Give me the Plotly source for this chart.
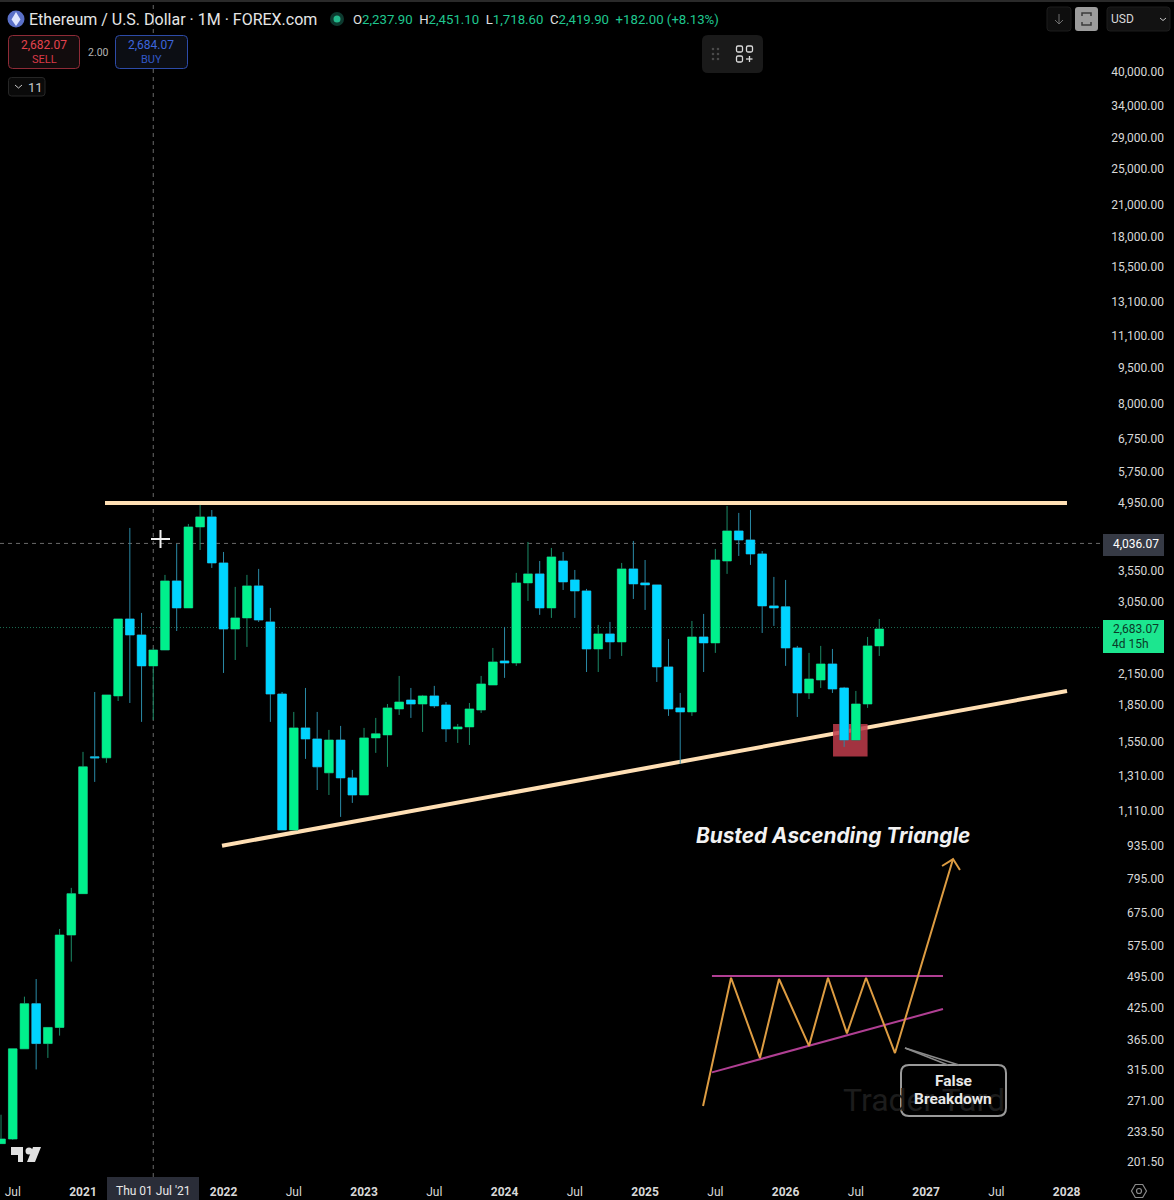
import plotly.graph_objects as go

# Month index: 0 = Jan 2021, one candle per month
months = list(range(-7, 69))
opens = [219, 224, 347, 432, 356, 385, 603,
         737, 1432, 1425, 1925, 2797, 2588, 2227, 2406, 3364, 2951, 4372, 4590,
         3671, 2664, 2811, 3284, 2757, 1943, 1004, 1648, 1562, 1325, 1554, 1293,
         1190, 1570, 1593, 1807, 1887, 1851, 1925, 1842, 1640, 1656, 1798, 2030,
         2281, 2259, 3332, 3481, 2951, 3706, 3380, 3205, 2418, 2601, 2502, 3566,
         3332, 3300, 2216, 1816, 1781, 2563, 2490, 3706, 4288, 4104, 3835, 2980,
         2966, 2430, 1953, 2080, 2248, 2001, 1554, 1851, 2454]
highs = [252, 347, 447, 487, 385, 621, 758,
         1467, 1962, 1934, 2797, 4351, 2880, 2430, 3464, 4026, 4436, 4865, 4747,
         3872, 3268, 3464, 3566, 2951, 1962, 1781, 2001, 1781, 1632, 1664, 1344,
         1648, 1730, 1851, 2121, 2001, 1934, 2021, 1869, 1680, 1860, 2121, 2430,
         2691, 3498, 4065, 3706, 3948, 3872, 3548, 3236, 2717, 2757, 3671, 4085,
         3724, 3300, 2538, 1953, 2770, 2866, 3929, 4841, 4680, 4747, 3890, 3430,
         3380, 2454, 2372, 2454, 2418, 2011, 1972, 2563, 2797]
lows = [219, 223, 347, 314, 332, 370, 530,
        737, 1268, 1391, 1878, 1860, 1697, 1713, 2406, 2638, 2951, 3909, 3583,
        2152, 2292, 2442, 2757, 1697, 1004, 1004, 1418, 1219, 1190, 1070, 1145,
        1190, 1460, 1364, 1755, 1730, 1616, 1816, 1539, 1532, 1517, 1772, 2030,
        2101, 2227, 3053, 2853, 2811, 3220, 2811, 2162, 2162, 2303, 2337, 3082,
        2922, 2060, 1747, 1384, 1747, 2162, 2372, 3481, 3798, 3636, 2613, 2704,
        2227, 1738, 1896, 2001, 1953, 1503, 1554, 1816, 2337]
closes = [224, 347, 432, 356, 385, 603, 737,
          1364, 1425, 1934, 2797, 2588, 2227, 2406, 3364, 2951, 4372, 4590, 3671,
          2664, 2811, 3284, 2783, 1943, 1004, 1648, 1562, 1364, 1554, 1293, 1190,
          1570, 1601, 1816, 1869, 1851, 1925, 1834, 1640, 1656, 1807, 2040, 2270,
          2259, 3332, 3481, 2951, 3780, 3348, 3205, 2418, 2601, 2502, 3566, 3316,
          3300, 2216, 1807, 1781, 2563, 2490, 3724, 4288, 4104, 3835, 2980, 2951,
          2430, 1953, 2090, 2248, 1991, 1554, 1851, 2454, 2664]

# Trend lines drawn on the chart
resistance_x = [1.88, 84.03]
resistance_y = [4912, 4912]
support_x = [11.87, 84.03]
support_y = [930, 1972]
zone_x = [64.05, 67.0]
zone_y = [1434, 1680]

# Reference price lines
crosshair_month = 6
crosshair_price = 4036.07
last_price = 2683.07

# Ascending-triangle sketch
sketch_x = [52.95, 55.34, 57.81, 59.44, 62.0, 63.62, 65.24, 66.87, 69.34, 74.3]
sketch_y = [263, 490, 332, 487, 352, 490, 374, 490, 340, 872]
arrow_x = [73.36, 74.3, 74.89]
arrow_y = [843, 872, 827]
sketch_top_x = [53.71, 73.44]
sketch_top_y = [494, 494]
sketch_rise_x = [53.71, 73.44]
sketch_rise_y = [309.5, 421]

# Axis labels
price_ticks = [40000, 34000, 29000, 25000, 21000, 18000, 15500, 13100, 11100, 9500,
               8000, 6750, 5750, 4950, 3550, 3050, 2150, 1850, 1550, 1310, 1110,
               935, 795, 675, 575, 495, 425, 365, 315, 271, 233.5, 201.5]
time_ticks = [-6, 0, 12, 18, 24, 30, 36, 42, 48, 54, 60, 66, 72, 78, 84]
time_labels = ["Jul", "<b>2021</b>", "<b>2022</b>", "Jul", "<b>2023</b>", "Jul", "<b>2024</b>", "Jul",
               "<b>2025</b>", "Jul", "<b>2026</b>", "Jul", "<b>2027</b>", "Jul", "<b>2028</b>"]

W, H = 1174, 1200
PANE_R, PANE_B = 1100, 1177
FONT = "Roboto"
GREEN, CYAN = "#00f08c", "#00d4ff"
GREEN_W, CYAN_W = "#1b8a66", "#2a8aa6"
CREAM = "#ffdfb4"
TXT = "#d8d8d8"


def X(p):
    return p / W


def Y(p):
    return 1 - p / H


def rrect(x0, y0, x1, y1, r, fill="rgba(0,0,0,0)", line="rgba(0,0,0,0)", lw=1):
    a, b, c, d = X(x0), X(x1), Y(y0), Y(y1)
    rx, ry = r / W, r / H
    path = (f"M {a+rx} {c} L {b-rx} {c} Q {b} {c} {b} {c-ry} L {b} {d+ry} Q {b} {d} {b-rx} {d} "
            f"L {a+rx} {d} Q {a} {d} {a} {d+ry} L {a} {c-ry} Q {a} {c} {a+rx} {c} Z")
    return dict(type="path", xref="paper", yref="paper", path=path, fillcolor=fill,
                line=dict(color=line, width=lw), layer="above")


def poly(pts, fill="rgba(0,0,0,0)", line="rgba(0,0,0,0)", lw=1, close=True):
    path = "M " + " L ".join(f"{X(a)} {Y(b)}" for a, b in pts) + (" Z" if close else "")
    return dict(type="path", xref="paper", yref="paper", path=path, fillcolor=fill,
                line=dict(color=line, width=lw), layer="above")


def seg(x0, y0, x1, y1, color, lw=1):
    return dict(type="line", xref="paper", yref="paper", x0=X(x0), y0=Y(y0), x1=X(x1), y1=Y(y1),
                line=dict(color=color, width=lw), layer="above")


def circ(cx, cy, r, fill="rgba(0,0,0,0)", line="rgba(0,0,0,0)", lw=1):
    return dict(type="circle", xref="paper", yref="paper", x0=X(cx - r), x1=X(cx + r), y0=Y(cy - r), y1=Y(cy + r),
                fillcolor=fill, line=dict(color=line, width=lw), layer="above")


def label(x, y, text, size=12, color=TXT, anchor="left", font=FONT):
    return dict(xref="paper", yref="paper", x=X(x), y=Y(y), text=text, showarrow=False, xanchor=anchor,
                yanchor="middle", align=anchor,
                font=dict(size=size, color=color, family=font), borderpad=0, borderwidth=0)


fig = go.Figure()

# Wicks
fig.add_trace(go.Candlestick(x=months, open=opens, high=highs, low=lows, close=closes,
                             increasing=dict(line=dict(color=GREEN_W, width=1), fillcolor=GREEN_W),
                             decreasing=dict(line=dict(color=CYAN_W, width=1), fillcolor=CYAN_W),
                             whiskerwidth=0, hoverinfo="skip", showlegend=False))
# Bodies
fig.add_trace(go.Candlestick(x=months, open=opens, close=closes,
                             high=[max(o, c) for o, c in zip(opens, closes)],
                             low=[min(o, c) for o, c in zip(opens, closes)],
                             increasing=dict(line=dict(color=GREEN, width=0), fillcolor=GREEN),
                             decreasing=dict(line=dict(color=CYAN, width=0), fillcolor=CYAN),
                             whiskerwidth=0, hoverinfo="skip", showlegend=False))
# Sketch
for xs, ys, color, w in [(sketch_top_x, sketch_top_y, "#b03f93", 2), (sketch_rise_x, sketch_rise_y, "#b03f93", 2),
                         (sketch_x, sketch_y, "#dd9c42", 2), (arrow_x, arrow_y, "#dd9c42", 2)]:
    fig.add_trace(go.Scatter(x=xs, y=ys, mode="lines", line=dict(color=color, width=w),
                             hoverinfo="skip", showlegend=False))

shapes = [
    # Price / crosshair guides below the candles
    dict(type="line", xref="paper", yref="y", x0=0, x1=X(PANE_R), y0=crosshair_price, y1=crosshair_price,
         line=dict(color="#6a6a6a", width=1, dash="4px,4px"), layer="below"),
    dict(type="line", xref="paper", yref="y", x0=0, x1=X(PANE_R), y0=last_price, y1=last_price,
         line=dict(color="#1b6b52", width=1, dash="1px,2px"), layer="below"),
    dict(type="line", xref="x", yref="paper", x0=crosshair_month, x1=crosshair_month, y0=Y(PANE_B), y1=1,
         line=dict(color="#6a6a6a", width=1, dash="4px,4px"), layer="below"),
    # Trend lines and zone
    dict(type="line", xref="x", yref="y", x0=resistance_x[0], x1=resistance_x[1], y0=resistance_y[0], y1=resistance_y[1],
         line=dict(color=CREAM, width=4), layer="below"),
    dict(type="line", xref="x", yref="y", x0=support_x[0], x1=support_x[1], y0=support_y[0], y1=support_y[1],
         line=dict(color=CREAM, width=4), layer="below"),
    dict(type="rect", xref="x", yref="y", x0=zone_x[0], x1=zone_x[1], y0=zone_y[0], y1=zone_y[1],
         fillcolor="rgba(190,60,75,0.85)", line=dict(width=0), layer="below"),
    # top hairline
    dict(type="rect", xref="paper", yref="paper", x0=0, x1=1, y0=Y(2), y1=1, fillcolor="#2a2a2a", line=dict(width=0), layer="above"),
    # Cursor
    seg(151, 539, 170, 539, "#f0f0f0", 2), seg(160.5, 530, 160.5, 548, "#f0f0f0", 2),
    # Header icons
    circ(16, 19, 8.5, fill="#5a70c8"),
    poly([(16, 12), (20.5, 19.5), (16, 26), (11.5, 19.5)], fill="#dfe6ff"),
    circ(337, 19, 7, fill="#0d3a2f"), circ(337, 19, 3.5, fill="#23b98c"),
    # Sell / buy
    rrect(8.5, 35.5, 79.5, 68.5, 4, fill="#120c0d", line="#8e2b37"),
    rrect(115.5, 35.5, 187.5, 68.5, 4, fill="#0c0e14", line="#2d4ba8"),
    rrect(8.5, 77.5, 45, 96, 3, fill="#0a0a0a", line="#262626"),
    poly([(15, 85), (18.5, 88), (22, 85)], line="#c8c8c8", lw=1, close=False),
    # Floating toolbar
    rrect(702, 35, 763, 73, 6, fill="#1a1a1a"),
    circ(713, 49, 1.3, fill="#4a4a4a"), circ(718, 49, 1.3, fill="#4a4a4a"),
    circ(713, 54, 1.3, fill="#4a4a4a"), circ(718, 54, 1.3, fill="#4a4a4a"),
    circ(713, 59, 1.3, fill="#4a4a4a"), circ(718, 59, 1.3, fill="#4a4a4a"),
    rrect(736.5, 46, 742.5, 52, 1.5, line="#dcdcdc", lw=1.3),
    rrect(746.5, 46, 752.5, 52, 1.5, line="#dcdcdc", lw=1.3),
    rrect(736.5, 56, 742.5, 62, 1.5, line="#dcdcdc", lw=1.3),
    seg(746, 59, 752.5, 59, "#dcdcdc", 1.3), seg(749.5, 56, 749.5, 62, "#dcdcdc", 1.3),
    # Top-right buttons
    rrect(1047, 7, 1071, 31, 3, fill="#0e0e0e", line="#1d1d1d"),
    seg(1059, 14, 1059, 24, "#6e6e6e", 1), poly([(1055, 20), (1059, 24), (1063, 20)], line="#6e6e6e", close=False),
    rrect(1075, 7, 1098, 31, 3, fill="#9c9c9c"),
    poly([(1082, 16), (1082, 13), (1091, 13), (1091, 16)], line="#3a3a3a", lw=1.5, close=False),
    poly([(1082, 22), (1082, 25), (1091, 25), (1091, 22)], line="#3a3a3a", lw=1.5, close=False),
    rrect(1107, 7, 1170, 31, 3, fill="#121212", line="#1d1d1d"),
    poly([(1160, 18), (1163, 20.5), (1166, 18)], line="#c8c8c8", close=False),
    # Price badges
    dict(type="rect", xref="paper", yref="paper", x0=X(1103), x1=X(1164), y0=Y(534), y1=Y(556), fillcolor="#363a45", line=dict(width=0), layer="above"),
    dict(type="rect", xref="paper", yref="paper", x0=X(1103), x1=X(1164), y0=Y(620), y1=Y(653), fillcolor="#1ce68f", line=dict(width=0), layer="above"),
    # Crosshair date badge
    dict(type="rect", xref="paper", yref="paper", x0=X(107), x1=X(199), y0=Y(1177), y1=Y(1200), fillcolor="#2a2d38", line=dict(width=0), layer="above"),
    # Callout
    rrect(901, 1065, 1006, 1116, 8, line="#9a9a9a", lw=2),
    seg(905, 1048, 948, 1065, "#8a8a8a", 1.5), seg(905, 1048, 959, 1065, "#8a8a8a", 1.5),
    # Logo
    poly([(11, 1147), (23, 1147), (23, 1162), (18, 1162), (18, 1155), (11, 1155)], fill="#e0e0e0"),
    circ(29, 1151, 3.5, fill="#e0e0e0"),
    poly([(33, 1147), (41, 1147), (35, 1162), (27, 1162)], fill="#e0e0e0"),
    # Gear
    poly([(1146.5, 1191), (1142.7, 1184.5), (1135.3, 1184.5), (1131.5, 1191), (1135.3, 1197.5), (1142.7, 1197.5)], line="#8a8a8a", lw=1.2),
    circ(1139, 1191, 2.5, line="#8a8a8a", lw=1.2),
]

ohlc = ("<span style='color:#e0e0e0'>O</span><span style='color:#1fc78f'>2,237.90</span>  "
        "<span style='color:#e0e0e0'>H</span><span style='color:#1fc78f'>2,451.10</span>  "
        "<span style='color:#e0e0e0'>L</span><span style='color:#1fc78f'>1,718.60</span>  "
        "<span style='color:#e0e0e0'>C</span><span style='color:#1fc78f'>2,419.90</span>  "
        "<span style='color:#1fc78f'>+182.00 (+8.13%)</span>")

annotations = [
    label(29, 19, "Ethereum / U.S. Dollar · 1M · FOREX.com", 16, "#e6e6e6"),
    label(353, 19, ohlc, 13.2),
    label(44, 45, "2,682.07", 12, "#e5434f", "center"),
    label(44, 59, "SELL", 11, "#d93a48", "center"),
    label(98, 52, "2.00", 10.5, "#b4b4b4", "center"),
    label(151, 45, "2,684.07", 12, "#3d66dd", "center"),
    label(151, 59, "BUY", 11, "#3258c8", "center"),
    label(28, 87, "11", 13, "#c8c8c8"),
    label(1111, 19, "USD", 12, "#d8d8d8"),
    label(1159, 544, "4,036.07", 12, "#ffffff", "right"),
    label(1159, 629, "2,683.07", 12, "#0a3a28", "right"),
    label(1112, 644, "4d 15h", 12, "#0a3a28"),
    label(153, 1191, "Thu 01 Jul '21", 12, "#e8e8e8", "center"),
    label(833, 835, "<b><i>Busted Ascending Triangle</i></b>", 20.8, "#f2f2f2", "center", "Inter"),
    label(924, 1100, "Trader Tard", 32, "#1c1c1c", "center"),
    label(953, 1081, "<b>False</b>", 15.5, "#e8e8e8", "center"),
    label(953, 1099, "<b>Breakdown</b>", 15.5, "#e8e8e8", "center"),
]

fig.update_layout(
    width=W, height=H, margin=dict(l=0, r=0, t=0, b=0), autosize=False,
    paper_bgcolor="#000000", plot_bgcolor="#000000", showlegend=False, boxgap=0.26, boxgroupgap=0,
    font=dict(family=FONT, size=12, color=TXT),
    xaxis=dict(domain=[0, PANE_R / W], range=[-83 / 11.71, (PANE_R - 83) / 11.71], type="linear",
               rangeslider=dict(visible=False), tickmode="array", tickvals=time_ticks, ticktext=time_labels,
               showgrid=False, zeroline=False, showline=False, ticks="", tickfont=dict(size=12, color="#d8d8d8"),
               ticklabeloverflow="allow", ticklabelstandoff=6),
    yaxis=dict(domain=[1 - PANE_B / H, 1], type="log", range=[2.2701, 4.7517], side="left", anchor="free",
               position=1164 / W, tickmode="array", tickvals=price_ticks,
               ticktext=[f"{v:,.2f}" for v in price_ticks], showgrid=False, zeroline=False, showline=False,
               ticks="", tickfont=dict(size=12, color="#d8d8d8"), ticklabelshift=1),
    shapes=shapes, annotations=annotations,
)

fig.write_html("out.html", config=dict(displayModeBar=False),
               post_script="document.body.style.margin='0';document.body.style.background='#000';document.body.style.overflow='hidden';")
